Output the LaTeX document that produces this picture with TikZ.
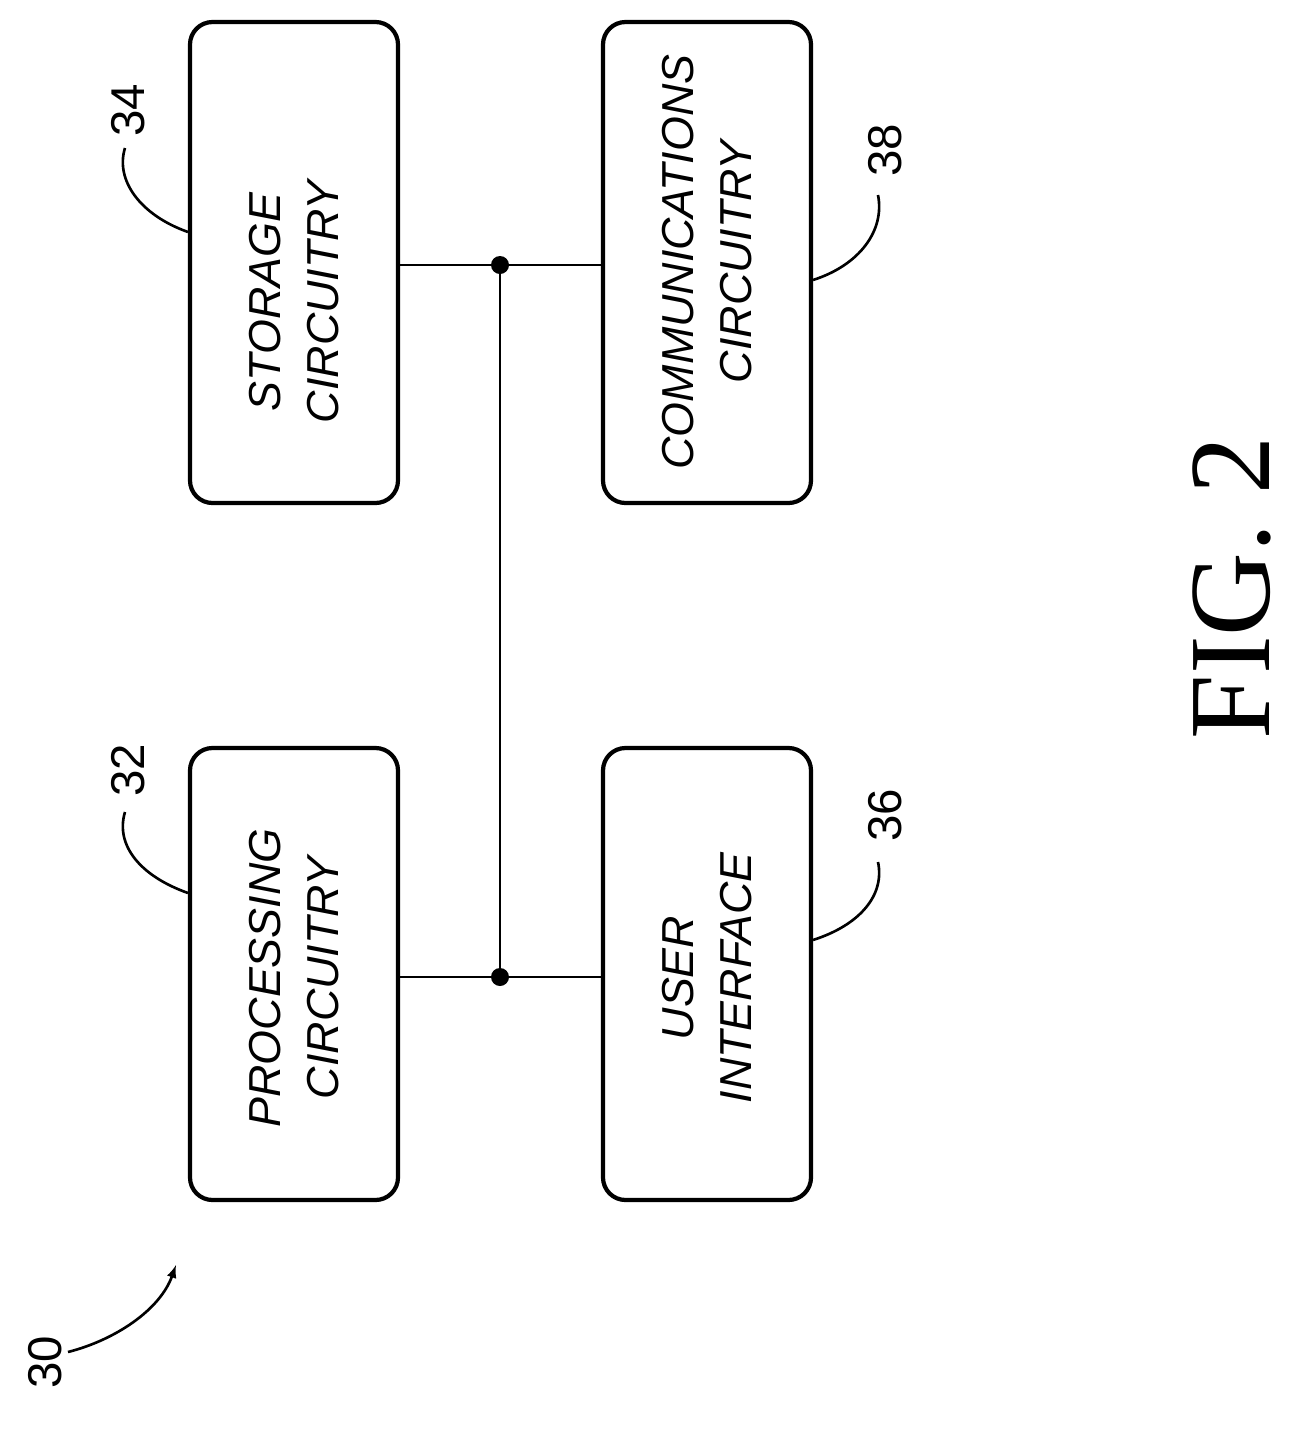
\documentclass[tikz,border=0pt]{standalone}
\usepackage{fontspec}
\setmainfont{Liberation Sans}
\newfontfamily\figfont{Liberation Serif}
\begin{document}
\begin{tikzpicture}[x=0.02cm,y=-0.02cm,
  box/.style={draw,line width=2.4pt,rounded corners=0.45cm,inner sep=0},
  lab/.style={rotate=90,font=\fontsize{25.5}{33}\selectfont\itshape,align=center},
  num/.style={rotate=90,font=\fontsize{27}{33}\selectfont},
  ln/.style={line width=1.5pt}]
\useasboundingbox (0,0) rectangle (1293,1441);
\draw[box] (190,22) rectangle (398,503);
\draw[box] (603,22) rectangle (811,503);
\draw[box] (190,748) rectangle (398,1200);
\draw[box] (603,748) rectangle (811,1200);
\node[lab] (sto) at (294,302) {STORAGE\\CIRCUITRY};
\node[lab] (com) at (707,262) {COMMUNICATIONS\\CIRCUITRY};
\node[lab] (pro) at (294,978) {PROCESSING\\CIRCUITRY};
\node[lab] (ui) at (707,978) {USER\\INTERFACE};
\coordinate (j1) at (500,265);
\coordinate (j2) at (500,977);
\draw[ln] (398,265) -- (603,265);
\draw[ln] (398,977) -- (603,977);
\draw[ln] (j1) -- (j2);
\fill (j1) circle (9);
\fill (j2) circle (9);
\node[num] (n34) at (128,110) {34};
\draw[ln] (188,232) .. controls (140,215) and (115,180) .. (125,148);
\node[num] (n38) at (885,150) {38};
\draw[ln] (813,280) .. controls (860,265) and (885,230) .. (878,195);
\node[num] (n32) at (128,770) {32};
\draw[ln] (188,893) .. controls (140,876) and (115,845) .. (125,812);
\node[num] (n36) at (885,815) {36};
\draw[ln] (813,940) .. controls (860,925) and (885,895) .. (878,862);
\node[num] (n30) at (45,1362) {30};
\draw[ln,-latex] (68,1352) .. controls (115,1340) and (160,1310) .. (176,1265);
\node[rotate=90,font=\figfont\fontsize{66}{70}\selectfont] (fig) at (1232,588) {FIG. 2};
\end{tikzpicture}
\end{document}
